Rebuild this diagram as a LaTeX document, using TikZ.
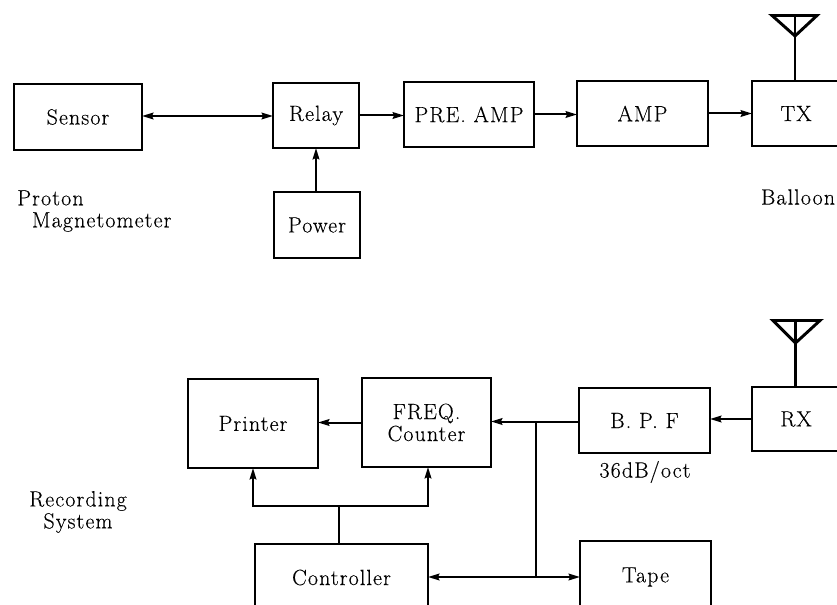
\documentclass[tikz,border=0pt]{standalone}
\usepackage{fontspec}
\setmainfont{Latin Modern Roman}[LetterSpace=5,FakeBold=0.25]
\usetikzlibrary{arrows.meta,calc}
\tikzset{
  blk/.style={draw=black,line width=2.15pt,inner sep=0pt,outer sep=0pt,font=\fontsize{16.5}{16.5}\selectfont,align=center},
  sz/.style 2 args={minimum width=#1*0.75pt,minimum height=#2*0.75pt},
  lbl/.style={inner sep=0pt,font=\fontsize{16.5}{16.5}\selectfont},
  ant/.style={line width=2.2pt,line join=miter},
  wire/.style={line width=1.5pt},
  arr/.style={wire,-{Stealth[length=8.5pt,width=5pt,inset=1pt]}},
  arrb/.style={wire,{Stealth[length=8.5pt,width=5pt,inset=1pt]}-{Stealth[length=8.5pt,width=5pt,inset=1pt]}}
}
\begin{document}
\begin{tikzpicture}[x=0.75pt,y=-0.75pt]
\path[use as bounding box,clip] (0,0) rectangle (837,605);
% top row
\node[blk,sz={128}{66}] (sensor) at (78,117) {Sensor};
\node[blk,sz={86}{65}] (relay) at (316,115.5) {\raisebox{-1pt}{Relay}};
\node[blk,sz={86}{66}] (power) at (317,225) {\raisebox{-2.5pt}{Power}};
\node[blk,sz={130}{65}] (pre) at (469,114.5) {PRE. AMP};
\node[blk,sz={131}{65}] (amp) at (642.5,113.5) {AMP};
\node[blk,sz={88}{65}] (tx) at (796,113.5) {TX};
% bottom row
\node[blk,sz={130}{89}] (printer) at (253,423.5) {Printer};
\node[blk,sz={129}{89}] (freq) at (426.5,422.5) {\raisebox{-1pt}{FREQ.}\\\raisebox{-1pt}{Counter}};
\node[blk,sz={131}{65}] (bpf) at (644.5,420.5) {B. P. F};
\node[blk,sz={88}{64}] (rx) at (796,419) {RX};
\node[blk,sz={173}{67}] (ctrl) at (341.5,577.5) {Controller};
\node[blk,sz={131}{72}] (tape) at (645.5,577) {Tape};
% labels
\node[lbl,align=left,anchor=north west] (proton) at (17,190) {Proton\\\hspace{11pt}Magnetometer};
\node[lbl] (balloon) at (798,197) {Balloon};
\node[lbl,align=center] (rec) at (78,512) {Recording\\System};
\node[lbl] (oct) at (645,472) {36dB/oct};
% antennas
\coordinate (txapex) at (795,36);
\coordinate (rxapex) at (795.5,343);
\draw[ant] (772,15.5) -- (817,15.5) -- (txapex) -- cycle;
\draw[ant] (795,15.5) -- (txapex) -- (tx.north -| txapex);
\draw[ant] (773,320.5) -- (820,320.5) -- (rxapex) -- cycle;
\draw[ant] (795.5,320.5) -- (rxapex) -- (rx.north -| rxapex);
% connectors
\coordinate (s1) at (sensor.east |- 0,116);
\draw[arrb] (s1) -- (s1 -| relay.west);
\draw[arr] (relay.east) -- (relay.east -| pre.west);
\draw[arr] (pre.east) -- (pre.east -| amp.west);
\draw[arr] (amp.east) -- (tx.west);
\draw[arr] (power.north -| relay.south) -- (relay.south);
\draw[arr] (rx.west) -- (rx.west -| bpf.east);
\coordinate (j1) at (536,421.5);
\coordinate (j2) at (536,577);
\draw[arr] (bpf.west |- j1) -- (j1) -- (j1 -| freq.east);
\draw[wire] (j1) -- (j2);
\draw[arrb] (j2 -| ctrl.east) -- (j2 -| tape.west);
\draw[arr] (freq.west) -- (freq.west -| printer.east);
\coordinate (b0) at (339,506);
\draw[wire] (ctrl.north -| b0) -- (b0);
\draw[arr] (b0) -- (b0 -| printer.south) -- (printer.south);
\coordinate (fq) at (428,506);
\draw[arr] (b0) -- (fq) -- (fq |- freq.south);
\end{tikzpicture}
\end{document}
